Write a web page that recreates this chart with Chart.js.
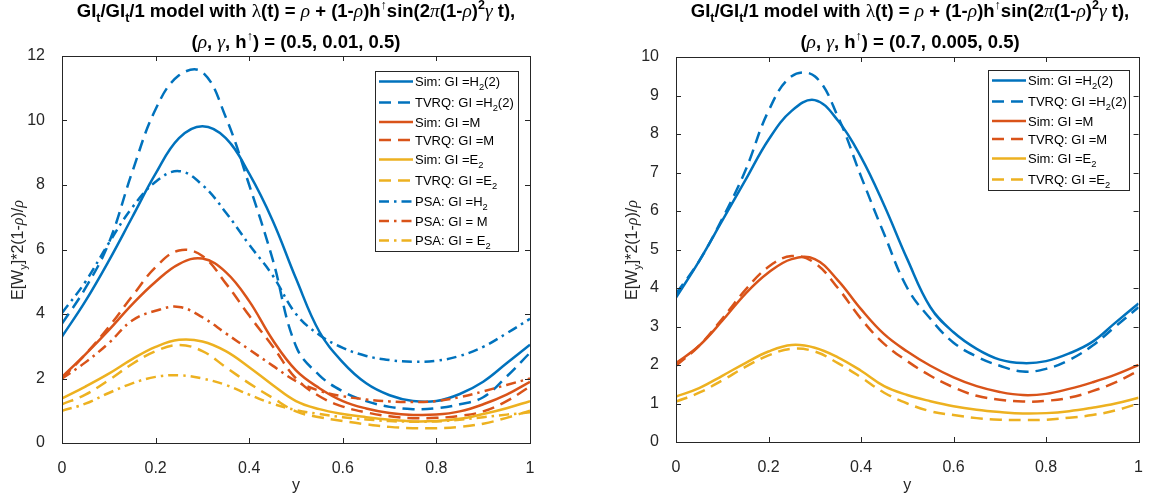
<!DOCTYPE html>
<html lang="en">
<head>
<meta charset="UTF-8">
<title>GIt/GIt/1 model, E[Wy] vs y</title>
<script src="https://cdn.jsdelivr.net/npm/chart.js"></script>
<style>
  body { margin:0; background:#fff; width:1151px; height:497px; position:relative; overflow:hidden;
         font-family:'Liberation Sans', Arial, sans-serif; }
  .box { position:absolute; top:0; height:497px; }
  .title { position:absolute; top:-3px; font-weight:bold; font-size:18.5px; line-height:28.5px; text-align:center;
           white-space:nowrap; transform:translateX(-50%); color:#000; }
  .g { font-family:'Liberation Serif', serif; font-weight:normal; font-style:italic; font-size:19.5px; }
  .gu { font-family:'Liberation Serif', serif; font-weight:normal; font-size:19.5px; }
  .sb { font-size:12.5px; position:relative; top:5px; }
  .sp { font-size:12.5px; position:relative; top:-8px; font-weight:normal; }
  .ylab { position:absolute; font-size:16px; color:#262626; white-space:nowrap;
          transform:translate(-50%,-50%) rotate(-90deg); }
  .ylab .g { font-size:16px; }
  .ylab .sb { font-size:11px; top:4px; }
</style>
</head>
<body>
<div class="box" style="left:0;width:575px;"><canvas id="left" width="575" height="497"></canvas></div>
<div class="box" style="left:575px;width:576px;"><canvas id="right" width="576" height="497"></canvas></div>

<div class="title" style="left:296px;">GI<span class="sb">t</span>/GI<span class="sb">t</span>/1 model with <span class="gu">λ</span>(t) = <span class="g">ρ</span> + (1-<span class="g">ρ</span>)h<span class="sp">↑</span>sin(2<span class="g">π</span>(1-<span class="g">ρ</span>)<span class="sp" style="font-weight:bold">2</span><span class="g">γ</span> t),<br>(<span class="g">ρ</span>, <span class="g">γ</span>, h<span class="sp">↑</span>) = (0.5, 0.01, 0.5)</div>
<div class="title" style="left:910px;">GI<span class="sb">t</span>/GI<span class="sb">t</span>/1 model with <span class="gu">λ</span>(t) = <span class="g">ρ</span> + (1-<span class="g">ρ</span>)h<span class="sp">↑</span>sin(2<span class="g">π</span>(1-<span class="g">ρ</span>)<span class="sp" style="font-weight:bold">2</span><span class="g">γ</span> t),<br>(<span class="g">ρ</span>, <span class="g">γ</span>, h<span class="sp">↑</span>) = (0.7, 0.005, 0.5)</div>

<div class="ylab" style="left:18px;top:250px;">E[W<span class="sb">y</span>]*2(1-<span class="g">ρ</span>)/<span class="g">ρ</span></div>
<div class="ylab" style="left:632px;top:250px;">E[W<span class="sb">y</span>]*2(1-<span class="g">ρ</span>)/<span class="g">ρ</span></div>

<script>
// y grid shared by every curve
const ys = [0, 0.05, 0.1, 0.15, 0.2, 0.25, 0.3, 0.35, 0.4, 0.45, 0.5, 0.55, 0.6, 0.65, 0.7, 0.75, 0.8, 0.85, 0.9, 0.95, 1];

// left panel: rho = 0.5, gamma = 0.01
const simH2L  = [3.3, 4.4, 5.65, 7.0, 8.35, 9.45, 9.82, 9.45, 8.35, 6.9, 5.1, 3.45, 2.5, 1.85, 1.48, 1.3, 1.3, 1.52, 1.9, 2.47, 3.05];
const tvrqH2L = [3.7, 4.8, 6.2, 8.4, 10.35, 11.4, 11.5, 10.1, 8.0, 5.7, 3.0, 2.1, 1.6, 1.3, 1.12, 1.05, 1.08, 1.2, 1.42, 2.06, 2.8];
const psaH2L  = [4.03, 5.0, 6.2, 7.3, 8.1, 8.43, 8.0, 7.15, 6.15, 5.2, 4.0, 3.35, 2.95, 2.7, 2.57, 2.52, 2.55, 2.7, 2.98, 3.4, 3.85];
const simML   = [2.05, 2.75, 3.5, 4.3, 5.0, 5.55, 5.72, 5.3, 4.4, 3.2, 2.25, 1.7, 1.3, 1.07, 0.93, 0.87, 0.88, 0.98, 1.2, 1.5, 1.9];
const tvrqML  = [2.0, 2.75, 3.6, 4.55, 5.45, 5.97, 5.8, 4.95, 3.95, 3.0, 2.0, 1.45, 1.13, 0.95, 0.83, 0.77, 0.78, 0.84, 0.98, 1.3, 1.75];
const psaML   = [2.0, 2.5, 3.1, 3.8, 4.1, 4.22, 3.9, 3.4, 2.9, 2.4, 1.92, 1.62, 1.45, 1.35, 1.29, 1.27, 1.3, 1.42, 1.6, 1.8, 2.0];
const simE2L  = [1.38, 1.75, 2.15, 2.6, 2.98, 3.2, 3.15, 2.85, 2.35, 1.8, 1.3, 1.05, 0.9, 0.8, 0.72, 0.67, 0.68, 0.75, 0.9, 1.08, 1.3];
const tvrqE2L = [1.2, 1.5, 1.95, 2.45, 2.85, 3.04, 2.85, 2.35, 1.85, 1.4, 0.98, 0.8, 0.68, 0.58, 0.5, 0.46, 0.46, 0.5, 0.6, 0.78, 1.0];
const psaE2L  = [1.0, 1.22, 1.55, 1.85, 2.05, 2.1, 2.0, 1.8, 1.5, 1.22, 1.02, 0.9, 0.8, 0.73, 0.68, 0.66, 0.67, 0.72, 0.8, 0.88, 0.95];

// right panel: rho = 0.7, gamma = 0.005
const simH2R  = [3.75, 4.7, 5.75, 6.8, 7.85, 8.6, 8.88, 8.35, 7.4, 6.15, 4.75, 3.5, 2.85, 2.42, 2.14, 2.05, 2.1, 2.3, 2.6, 3.1, 3.6];
const tvrqH2R = [3.85, 4.7, 5.8, 7.05, 8.6, 9.5, 9.5, 8.45, 6.9, 5.4, 4.0, 3.2, 2.58, 2.22, 1.98, 1.83, 1.9, 2.13, 2.5, 3.0, 3.5];
const simMR   = [2.05, 2.5, 3.15, 3.85, 4.4, 4.75, 4.75, 4.2, 3.45, 2.8, 2.35, 1.98, 1.68, 1.45, 1.3, 1.22, 1.25, 1.38, 1.55, 1.75, 2.0];
const tvrqMR  = [1.98, 2.5, 3.2, 3.95, 4.55, 4.83, 4.65, 4.0, 3.2, 2.55, 2.1, 1.72, 1.42, 1.2, 1.1, 1.05, 1.07, 1.15, 1.32, 1.55, 1.85];
const simE2R  = [1.18, 1.4, 1.72, 2.05, 2.35, 2.52, 2.45, 2.2, 1.85, 1.45, 1.22, 1.06, 0.93, 0.84, 0.78, 0.74, 0.75, 0.8, 0.89, 1.0, 1.15];
const tvrqE2R = [1.05, 1.28, 1.6, 1.95, 2.25, 2.42, 2.35, 2.05, 1.68, 1.28, 1.0, 0.8, 0.7, 0.62, 0.58, 0.57, 0.58, 0.63, 0.7, 0.82, 1.0];

// legend texts, "_x" marks a subscript
const labelsL = ['Sim: GI =H_2(2)', 'TVRQ: GI =H_2(2)', 'Sim: GI =M', 'TVRQ: GI =M', 'Sim: GI =E_2',
                 'TVRQ: GI =E_2', 'PSA: GI =H_2', 'PSA: GI = M', 'PSA: GI = E_2'];
const labelsR = labelsL.slice(0, 6);

const BLUE = '#0072BD', RED = '#D95319', YEL = '#EDB120';
const SOLID = [], DASH = [12, 7], DASHDOT = [10, 5, 2.5, 5];
const FONT = "'Liberation Sans', Arial, sans-serif";

function series(label, vals, color, dash, n) {
    return {
        label: label,
        data: ys.map((x, i) => ({ x: x, y: vals[i] })),
        borderColor: color,
        borderWidth: 2.5,
        borderDash: dash,
        pointRadius: 0,
        tension: 0.4,
        fill: false,
        order: -n   // later series on top, as in the original
    };
}

// box round the plot area with inward ticks on all four sides
const boxAxes = {
    id: 'boxAxes',
    afterDatasetsDraw(chart) {
        const { ctx, chartArea: a, scales: { x, y } } = chart;
        ctx.save();
        ctx.strokeStyle = '#262626';
        ctx.lineWidth = 1;
        ctx.beginPath();
        x.ticks.forEach(t => {
            const px = Math.round(x.getPixelForValue(t.value)) + 0.5;
            ctx.moveTo(px, a.bottom); ctx.lineTo(px, a.bottom - 5);
            ctx.moveTo(px, a.top); ctx.lineTo(px, a.top + 5);
        });
        y.ticks.forEach(t => {
            const py = Math.round(y.getPixelForValue(t.value)) + 0.5;
            ctx.moveTo(a.left, py); ctx.lineTo(a.left + 5, py);
            ctx.moveTo(a.right, py); ctx.lineTo(a.right - 5, py);
        });
        ctx.stroke();
        ctx.strokeRect(Math.round(a.left) + 0.5, Math.round(a.top) + 0.5,
                       Math.round(a.right - a.left), Math.round(a.bottom - a.top));
        ctx.restore();
    }
};

// writes text, the char after "_" goes down as a subscript
function richText(ctx, str, x, y, size) {
    let cx = x;
    for (let i = 0; i < str.length; i++) {
        let ch = str[i], dy = 0, fs = size;
        if (ch === '_' && i + 1 < str.length) { ch = str[++i]; dy = 4; fs = size * 0.72; }
        ctx.font = fs + 'px ' + FONT;
        ctx.fillText(ch, cx, y + dy);
        cx += ctx.measureText(ch).width;
    }
}

const boxLegend = {
    id: 'boxLegend',
    afterDraw(chart, args, opts) {
        const { ctx } = chart;
        const sets = chart.data.datasets;
        const rowH = sets.map(d => d.label.includes('_') ? 21 : 18);
        const h = rowH.reduce((s, v) => s + v, 0);
        ctx.save();
        ctx.fillStyle = '#fff';
        ctx.fillRect(opts.x, opts.y, opts.w, h);
        ctx.strokeStyle = '#262626';
        ctx.lineWidth = 1;
        ctx.strokeRect(opts.x + 0.5, opts.y + 0.5, opts.w, h);
        let top = opts.y;
        sets.forEach((d, i) => {
            const cy = top + rowH[i] / 2;
            ctx.beginPath();
            ctx.setLineDash(d.borderDash);
            ctx.strokeStyle = d.borderColor;
            ctx.lineWidth = d.borderWidth;
            ctx.moveTo(opts.x + 4, cy);
            ctx.lineTo(opts.x + 38, cy);
            ctx.stroke();
            ctx.setLineDash([]);
            ctx.fillStyle = '#000';
            ctx.textBaseline = 'alphabetic';
            richText(ctx, d.label, opts.x + 40, cy + (d.label.includes('_') ? 4 : 5), 13);
            top += rowH[i];
        });
        ctx.restore();
    }
};

function makeChart(id, datasets, yMax, yStep, pad, yW, xH, legend) {
    return new Chart(document.getElementById(id), {
        type: 'line',
        data: { datasets: datasets },
        options: {
            responsive: false,
            animation: false,
            layout: { padding: pad },
            plugins: {
                legend: { display: false },
                tooltip: { enabled: false },
                boxLegend: legend
            },
            scales: {
                x: {
                    type: 'linear', min: 0, max: 1,
                    grid: { display: false }, border: { display: false },
                    ticks: { stepSize: 0.2, color: '#262626', font: { family: FONT, size: 16 }, padding: 8,
                             maxRotation: 0, callback: v => String(+v.toFixed(1)) },
                    title: { display: true, text: 'y', color: '#262626', font: { family: FONT, size: 16 },
                             padding: { top: 0, bottom: 2 } },
                    afterFit: s => { s.height = xH; }
                },
                y: {
                    min: 0, max: yMax,
                    grid: { display: false }, border: { display: false },
                    ticks: { stepSize: yStep, color: '#262626', font: { family: FONT, size: 16 }, padding: 9 },
                    afterFit: s => { s.width = yW; }
                }
            }
        },
        plugins: [boxAxes, boxLegend]
    });
}

makeChart('left', [
    series(labelsL[0], simH2L, BLUE, SOLID, 0),
    series(labelsL[1], tvrqH2L, BLUE, DASH, 1),
    series(labelsL[2], simML, RED, SOLID, 2),
    series(labelsL[3], tvrqML, RED, DASH, 3),
    series(labelsL[4], simE2L, YEL, SOLID, 4),
    series(labelsL[5], tvrqE2L, YEL, DASH, 5),
    series(labelsL[6], psaH2L, BLUE, DASHDOT, 6),
    series(labelsL[7], psaML, RED, DASHDOT, 7),
    series(labelsL[8], psaE2L, YEL, DASHDOT, 8)
], 12, 2, { left: 0, right: 45, top: 56, bottom: 0 }, 62, 54, { x: 375, y: 71, w: 143 });

makeChart('right', [
    series(labelsR[0], simH2R, BLUE, SOLID, 0),
    series(labelsR[1], tvrqH2R, BLUE, DASH, 1),
    series(labelsR[2], simMR, RED, SOLID, 2),
    series(labelsR[3], tvrqMR, RED, DASH, 3),
    series(labelsR[4], simE2R, YEL, SOLID, 4),
    series(labelsR[5], tvrqE2R, YEL, DASH, 5)
], 10, 1, { left: 0, right: 7, top: 57, bottom: 0 }, 101, 55, { x: 413, y: 70, w: 141 });
</script>
</body>
</html>
